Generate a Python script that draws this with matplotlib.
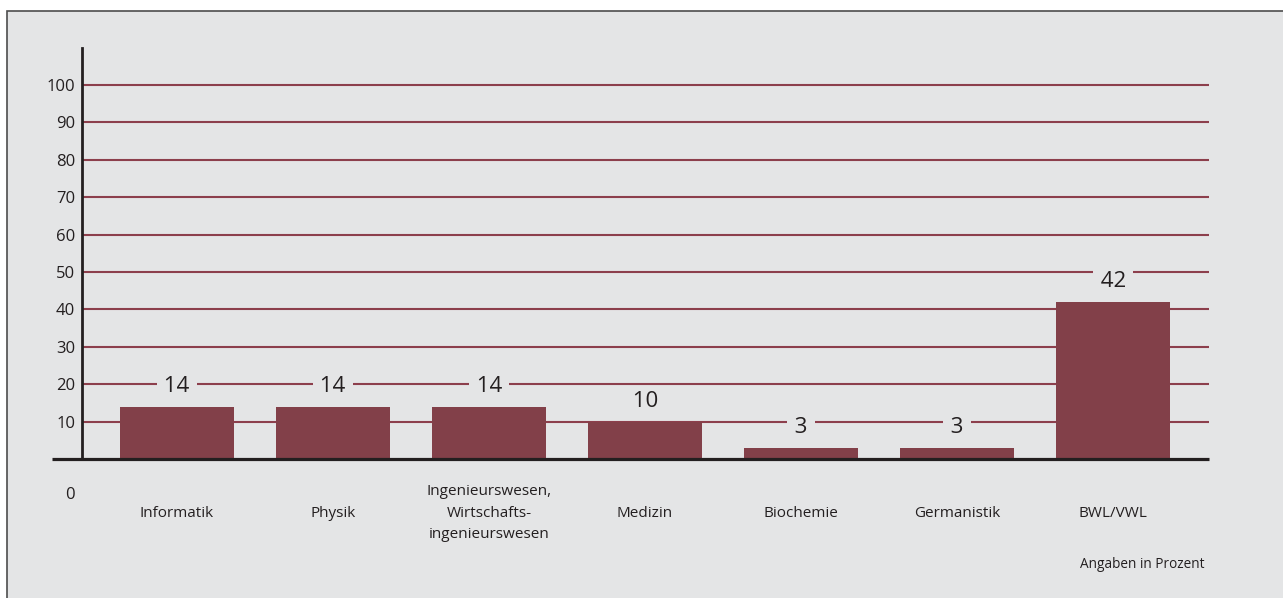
import matplotlib.pyplot as plt
from matplotlib.patches import Rectangle

plt.rcParams['font.family'] = ['Open Sans', 'DejaVu Sans']

categories = ['Informatik', 'Physik',
              'Ingenieurswesen,\nWirtschafts-\ningenieurswesen',
              'Medizin', 'Biochemie', 'Germanistik', 'BWL/VWL']
values = [14, 14, 14, 10, 3, 3, 42]
yticks = [10, 20, 30, 40, 50, 60, 70, 80, 90, 100]
note = 'Angaben in Prozent'

bg = '#e4e5e6'
bar_color = '#824049'
grid_color = '#8c3f4c'
ink = '#231f20'

W, H = 1283, 598
fig = plt.figure(figsize=(W / 100, H / 100), dpi=100, facecolor='white')

# grey panel with a thin frame (open to the right and bottom)
fig.add_artist(Rectangle((6.5 / W, -0.05), 1.1, 1.05 - 11 / H,
                         transform=fig.transFigure, facecolor=bg,
                         edgecolor='#4d4d4d', lw=1.2, zorder=0))

ax = fig.add_axes([82 / W, 1 - 459 / H, (1209 - 82) / W, (459 - 48) / H])
ax.set_facecolor('none')

pitch = 156.0
x0 = 177.0
xl, xr = (82 - x0) / pitch, (1209 - x0) / pitch
ax.set_xlim(xl, xr)
ax.set_ylim(0, (459 - 48) / 3.74)

for y in yticks:
    ax.axhline(y, color=grid_color, lw=1.5, zorder=1)

xs = list(range(len(values)))
ax.bar(xs, values, width=114 / pitch, color=bar_color, zorder=2)

# baseline sticks out past the y axis
ax.plot([xl - 30 / pitch, xr], [0, 0], color=ink, lw=2.3,
        clip_on=False, zorder=4, solid_capstyle='butt')

for s in ['top', 'right', 'bottom']:
    ax.spines[s].set_visible(False)
ax.spines['left'].set_linewidth(2)
ax.spines['left'].set_color(ink)
ax.spines['left'].set_zorder(4)

ax.set_yticks(yticks)
ax.set_yticklabels([str(t) for t in yticks], fontsize=12, color=ink)
ax.tick_params(axis='y', length=0, pad=5)
ax.set_xticks([])

ax.annotate('0', xy=(0, 0), xycoords=('axes fraction', 'data'),
            xytext=(-5, -26), textcoords='offset points',
            ha='right', va='center', fontsize=12, color=ink)

for x, v, c in zip(xs, values, categories):
    ax.annotate(f' {v} ', xy=(x, v), xytext=(0, 10.5), textcoords='offset points',
                ha='center', va='baseline', fontsize=16, color=ink, zorder=3,
                bbox=dict(boxstyle='square,pad=0.08', facecolor=bg, edgecolor='none'))
    ax.annotate(c, xy=(x, 0), xytext=(0, -39), textcoords='offset points',
                ha='center', va='center', multialignment='center',
                fontsize=11, color=ink, linespacing=1.6)

fig.text(1205 / W, 1 - 565 / H, note, ha='right', va='center',
         fontsize=9.8, color=ink)

fig.savefig('out.png', dpi=100)
